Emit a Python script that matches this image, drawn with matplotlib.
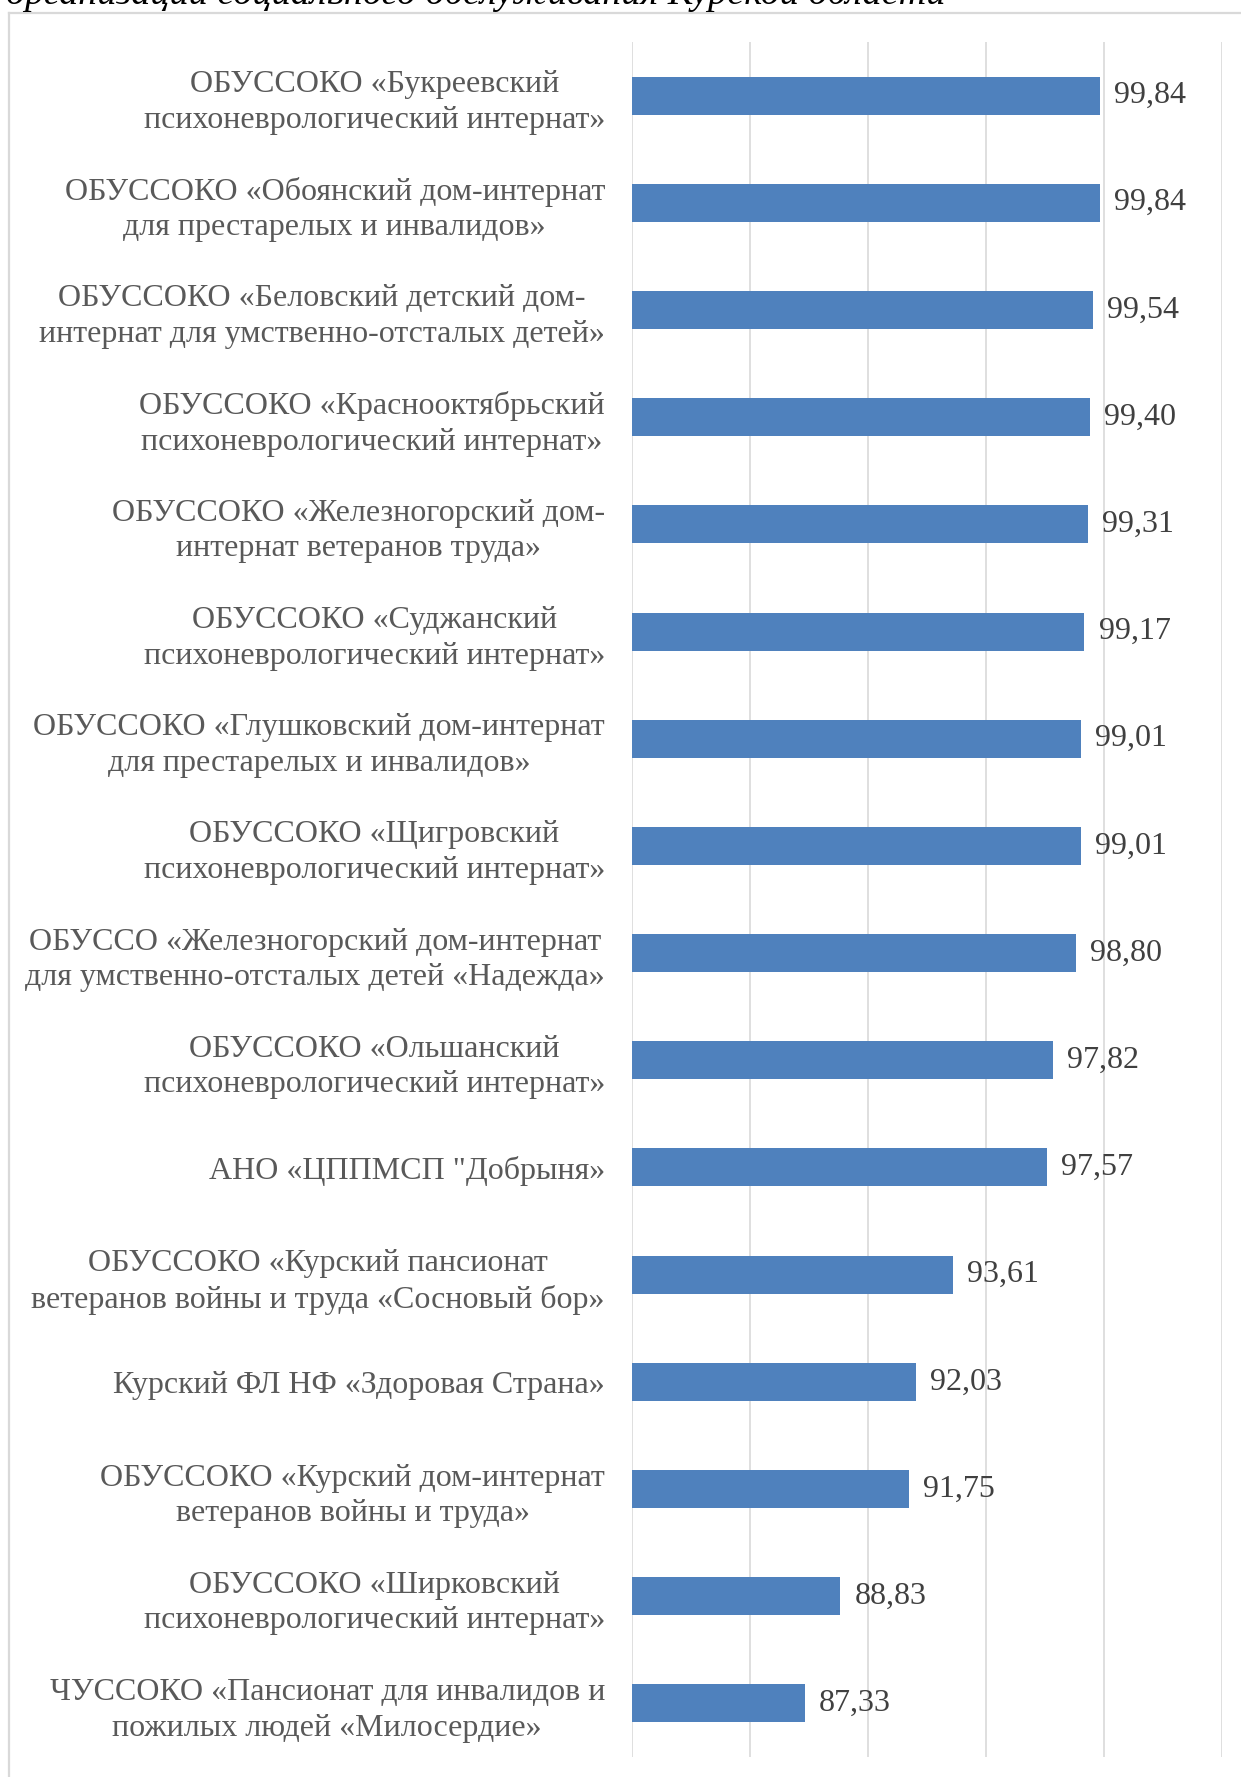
import matplotlib.pyplot as plt
from matplotlib.lines import Line2D

plt.rcParams['font.family'] = ['Liberation Serif', 'DejaVu Serif']

labels = [
    "ОБУССОКО «Букреевский\nпсихоневрологический интернат»",
    "ОБУССОКО «Обоянский дом-интернат\nдля престарелых и инвалидов»",
    "ОБУССОКО «Беловский детский дом-\nинтернат для умственно-отсталых детей»",
    "ОБУССОКО «Краснооктябрьский\nпсихоневрологический интернат»",
    "ОБУССОКО «Железногорский дом-\nинтернат ветеранов труда»",
    "ОБУССОКО «Суджанский\nпсихоневрологический интернат»",
    "ОБУССОКО «Глушковский дом-интернат\nдля престарелых и инвалидов»",
    "ОБУССОКО «Щигровский\nпсихоневрологический интернат»",
    "ОБУССО «Железногорский дом-интернат\nдля умственно-отсталых детей «Надежда»",
    "ОБУССОКО «Ольшанский\nпсихоневрологический интернат»",
    "АНО «ЦППМСП \"Добрыня»",
    "ОБУССОКО «Курский пансионат\nветеранов войны и труда «Сосновый бор»",
    "Курский ФЛ НФ «Здоровая Страна»",
    "ОБУССОКО «Курский дом-интернат\nветеранов войны и труда»",
    "ОБУССОКО «Ширковский\nпсихоневрологический интернат»",
    "ЧУССОКО «Пансионат для инвалидов и\nпожилых людей «Милосердие»",
]
values = [99.84, 99.84, 99.54, 99.40, 99.31, 99.17, 99.01, 99.01,
          98.80, 97.82, 97.57, 93.61, 92.03, 91.75, 88.83, 87.33]
x_ticks = [80, 85, 90, 95, 100, 105]
caption = "организаций социального обслуживания Курской области"

W, H = 1241, 1777
fig = plt.figure(figsize=(W / 100, H / 100), dpi=100)
ax = fig.add_axes([632 / W, 1 - 1757 / H, 590 / W, 1715 / H])

pos = list(range(len(values)))
ax.barh(pos, [v - x_ticks[0] for v in values], left=x_ticks[0],
        height=0.355, color='#4F81BD', zorder=3)
ax.set_xlim(x_ticks[0], x_ticks[-1])
ax.set_ylim(len(values) - 0.5, -0.5)
ax.set_xticks(x_ticks)
ax.xaxis.grid(True, color='#D9D9D9', linewidth=1.2, zorder=0)
ax.tick_params(axis='x', bottom=False, labelbottom=False)
ax.tick_params(axis='y', left=False, pad=16)
ax.set_yticks(pos)
ax.set_yticklabels(labels, fontsize=23, color='#595959',
                   multialignment='center', linespacing=1.3)
for s in ax.spines.values():
    s.set_visible(False)

for p, v in zip(pos, values):
    ax.text(v + 0.6, p, f"{v:.2f}".replace('.', ','), va='center', ha='left',
            fontsize=23, color='#404040', zorder=4)

# outer frame and cut-off caption
fig.add_artist(Line2D([9 / W, 1], [1 - 13 / H, 1 - 13 / H], transform=fig.transFigure,
                      color='#D9D9D9', linewidth=1.6))
fig.add_artist(Line2D([9 / W, 9 / W], [0, 1 - 13 / H], transform=fig.transFigure,
                      color='#D9D9D9', linewidth=1.6))
fig.text(6 / W, 1 - 4 / H, caption, fontsize=27.5, style='italic',
         va='baseline', ha='left', color='black')

fig.savefig('out.png', dpi=100)
